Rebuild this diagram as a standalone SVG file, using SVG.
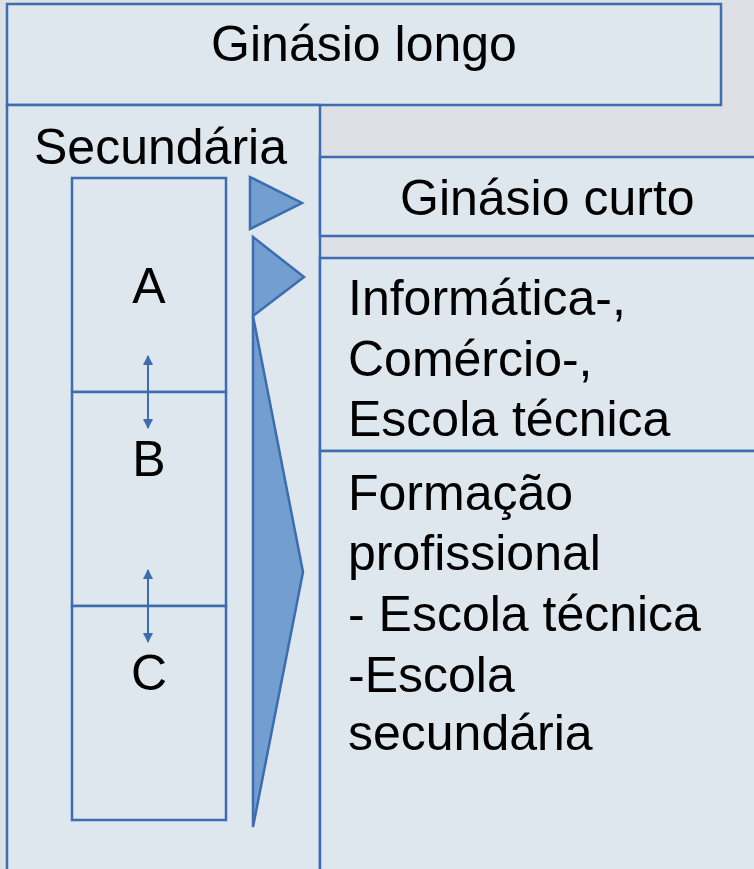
<svg xmlns="http://www.w3.org/2000/svg" width="754" height="869" viewBox="0 0 754 869">
<defs>
<style>
.box{fill:#dee6ee;stroke:#3d6cb0;stroke-width:2.5}
.line{fill:none;stroke:#3d6cb0;stroke-width:2.5}
.tri{fill:#729fcf;stroke:#3d6cb0;stroke-width:2.5;stroke-linejoin:miter}
.t{font-family:"Liberation Sans",Arial,sans-serif;font-size:50px;fill:#000}
.arr{stroke:#3d6cb0;stroke-width:2;fill:none}
</style>
<marker id="ah" viewBox="0 0 10 10" refX="9" refY="5" markerWidth="5" markerHeight="5" orient="auto-start-reverse" markerUnits="strokeWidth">
<path d="M0,0 L10,5 L0,10 Z" fill="#3d6cb0"/>
</marker>
</defs>
<rect x="0" y="0" width="754" height="869" fill="#dfe0e5"/>
<g id="ginasio-longo">
<rect class="box" x="7" y="4" width="714" height="101"/>
<text class="t" x="364" y="61" text-anchor="middle">Ginásio longo</text>
</g>
<g id="secundaria">
<rect class="box" x="7" y="105" width="313" height="770"/>
<text class="t" x="34" y="164">Secundária</text>
</g>
<g id="ginasio-curto">
<rect class="box" x="320" y="157" width="440" height="79"/>
<text class="t" x="400" y="215">Ginásio curto</text>
</g>
<g id="informatica">
<rect class="box" x="320" y="258" width="440" height="193"/>
<text class="t" x="348" y="315">Informática-,</text>
<text class="t" x="348" y="376">Comércio-,</text>
<text class="t" x="348" y="436">Escola técnica</text>
</g>
<g id="formacao">
<rect class="box" x="320" y="451" width="440" height="424"/>
<text class="t" x="348" y="510">Formação</text>
<text class="t" x="348" y="570">profissional</text>
<text class="t" x="348" y="631">- Escola técnica</text>
<text class="t" x="348" y="692">-Escola</text>
<text class="t" x="348" y="750">secundária</text>
</g>
<g id="nivel-a">
<rect class="box" x="72" y="178" width="154" height="214"/>
<text class="t" x="149" y="303" text-anchor="middle">A</text>
</g>
<g id="nivel-b">
<rect class="box" x="72" y="392" width="154" height="214"/>
<text class="t" x="149" y="476" text-anchor="middle">B</text>
</g>
<g id="nivel-c">
<rect class="box" x="72" y="606" width="154" height="214"/>
<text class="t" x="149" y="690" text-anchor="middle">C</text>
</g>
<g id="seta-ginasio-curto">
<polygon class="tri" points="250,177 302,203 250,229"/>
</g>
<g id="seta-informatica">
<polygon class="tri" points="253,237 304,277 253,316"/>
</g>
<g id="seta-formacao">
<polygon class="tri" points="253,316 303,572 253,827"/>
</g>
<g id="connectors">
<line class="arr" x1="148" y1="356" x2="148" y2="428" marker-start="url(#ah)" marker-end="url(#ah)"/>
<line class="arr" x1="148" y1="570" x2="148" y2="642" marker-start="url(#ah)" marker-end="url(#ah)"/>
</g>
</svg>
